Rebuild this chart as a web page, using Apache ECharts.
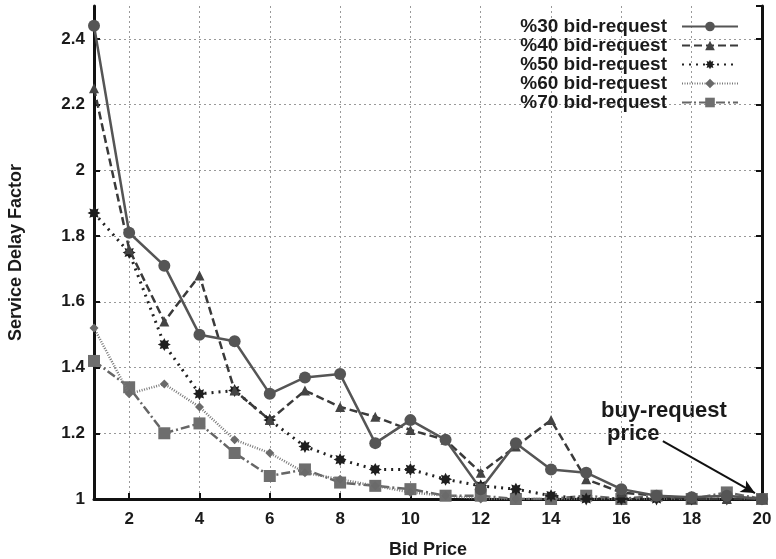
<!DOCTYPE html>
<html>
<head>
<meta charset="utf-8">
<script src="https://cdn.jsdelivr.net/npm/echarts@6/dist/echarts.min.js"></script>
<style>html,body{margin:0;padding:0;background:#fff;}#c{width:776px;height:559px;}</style>
</head>
<body>
<div id="c"></div>
<script>
const bidPrice = ['1','2','3','4','5','6','7','8','9','10','11','12','13','14','15','16','17','18','19','20'];
const yTicks = [1, 1.2, 1.4, 1.6, 1.8, 2, 2.2, 2.4];
const s30 = [2.44,1.81,1.71,1.50,1.48,1.32,1.37,1.38,1.17,1.24,1.18,1.03,1.17,1.09,1.08,1.03,1.01,1.005,1.01,1.0];
const s40 = [2.25,1.76,1.54,1.68,1.33,1.24,1.33,1.28,1.25,1.21,1.18,1.08,1.16,1.24,1.06,1.02,1.01,1.0,1.0,1.0];
const s50 = [1.87,1.75,1.47,1.32,1.33,1.24,1.16,1.12,1.09,1.09,1.06,1.04,1.03,1.01,1.0,1.0,1.0,1.0,1.0,1.0];
const s60 = [1.52,1.32,1.35,1.28,1.18,1.14,1.08,1.06,1.04,1.02,1.01,1.0,1.0,1.0,1.0,1.0,1.0,1.0,1.0,1.0];
const s70 = [1.42,1.34,1.20,1.23,1.14,1.07,1.09,1.05,1.04,1.03,1.01,1.01,1.0,1.0,1.01,1.0,1.01,1.0,1.02,1.0];
const seriesNames = ['%30 bid-request','%40 bid-request','%50 bid-request','%60 bid-request','%70 bid-request'];
const arrowFrom = [17.18, 1.176];
const arrowTo = [19.8, 1.018];

const FONT = 'Liberation Sans, Arial, sans-serif';
const starPath = 'path://M0,-10 L2.3,-5.54 L7.07,-7.07 L5.54,-2.3 L10,0 L5.54,2.3 L7.07,7.07 L2.3,5.54 L0,10 L-2.3,5.54 L-7.07,7.07 L-5.54,2.3 L-10,0 L-5.54,-2.3 L-7.07,-7.07 L-2.3,-5.54 Z';
const evenOnly = (i, v) => (Number(v) % 2 === 0);

const chart = echarts.init(document.getElementById('c'));
chart.setOption({
  backgroundColor: '#fff',
  animation: false,
  textStyle: { fontFamily: FONT },
  grid: { left: 94, right: 14, top: 6, bottom: 60, containLabel: false, outerBoundsMode: 'none' },
  legend: {
    orient: 'vertical',
    right: 32,
    top: 12,
    align: 'right',
    itemWidth: 56,
    itemHeight: 12,
    itemGap: 0,
    data: seriesNames,
    textStyle: { fontSize: 19, lineHeight: 19, fontWeight: 'bold', color: '#1a1a1a', fontFamily: FONT, padding: [0, 10, 0, 0] }
  },
  xAxis: [{
    type: 'category',
    data: bidPrice,
    boundaryGap: false,
    name: 'Bid Price',
    nameLocation: 'middle',
    nameGap: 42,
    nameTextStyle: { fontSize: 18, fontWeight: 'bold', color: '#1a1a1a', fontFamily: FONT },
    axisLine: { lineStyle: { color: '#111', width: 3 } },
    axisTick: { inside: true, length: 6, interval: evenOnly, lineStyle: { color: '#111', width: 2 } },
    axisLabel: { interval: evenOnly, fontSize: 17, fontWeight: 'bold', color: '#1a1a1a', margin: 12 },
    splitLine: { show: true, interval: evenOnly, lineStyle: { color: '#999', type: [2, 3], width: 1 } }
  }, {
    type: 'value', min: 1, max: 20, show: false
  }],
  yAxis: [{
    type: 'value',
    min: 1,
    max: 2.5,
    interval: 0.2,
    name: 'Service Delay Factor',
    nameLocation: 'middle',
    nameGap: 69,
    nameTextStyle: { fontSize: 18, fontWeight: 'bold', color: '#1a1a1a', fontFamily: FONT },
    axisLine: { show: true, lineStyle: { color: '#111', width: 3 } },
    axisTick: { show: true, inside: true, length: 6, lineStyle: { color: '#111', width: 2 } },
    axisLabel: { fontSize: 17, fontWeight: 'bold', color: '#1a1a1a', margin: 9, showMaxLabel: false,
      formatter: v => (yTicks.some(t => Math.abs(t - v) < 1e-6) ? String(+v.toFixed(1)) : '') },
    splitLine: { show: true, showMaxLine: false, lineStyle: { color: '#999', type: [2, 3], width: 1 } }
  }, {
    type: 'value',
    min: 1,
    max: 2.5,
    interval: 0.2,
    position: 'right',
    axisLine: { show: true, lineStyle: { color: '#111', width: 3 } },
    axisTick: { show: true, inside: true, length: 6, lineStyle: { color: '#111', width: 2 } },
    axisLabel: { show: false },
    splitLine: { show: false }
  }],
  series: [
    { name: seriesNames[4], type: 'line', data: s70, z: 2,
      symbol: 'rect', symbolSize: 12,
      itemStyle: { color: '#6e6e6e' },
      lineStyle: { color: '#666', width: 2.5, type: [9, 3, 2, 3] } },
    { name: seriesNames[3], type: 'line', data: s60, z: 3,
      symbol: 'diamond', symbolSize: 9,
      itemStyle: { color: '#6a6a6a' },
      lineStyle: { color: '#777', width: 2.5, type: [1, 1.5] } },
    { name: seriesNames[2], type: 'line', data: s50, z: 4,
      symbol: starPath, symbolSize: 13,
      itemStyle: { color: '#1e1e1e' },
      lineStyle: { color: '#222', width: 3, type: [2, 5] } },
    { name: seriesNames[1], type: 'line', data: s40, z: 5,
      symbol: 'triangle', symbolSize: 10,
      itemStyle: { color: '#444' },
      lineStyle: { color: '#3a3a3a', width: 2.5, type: [8, 4] } },
    { name: seriesNames[0], type: 'line', data: s30, z: 6,
      symbol: 'circle', symbolSize: 12,
      itemStyle: { color: '#555' },
      lineStyle: { color: '#555', width: 2.5 } },
    { name: 'annotation', type: 'line', xAxisIndex: 1, data: [], silent: true,
      markLine: {
        silent: true,
        symbol: ['none', 'arrow'],
        symbolSize: [10, 14],
        label: { show: false },
        lineStyle: { color: '#111', width: 2, type: 'solid' },
        data: [[{ coord: arrowFrom }, { coord: arrowTo }]]
      } }
  ],
  graphic: [
    { type: 'text', left: 601, top: 400, silent: true,
      style: { text: 'buy-request', fontSize: 22, fontWeight: 'bold', fill: '#1a1a1a', fontFamily: FONT } },
    { type: 'text', left: 607, top: 423, silent: true,
      style: { text: 'price', fontSize: 22, fontWeight: 'bold', fill: '#1a1a1a', fontFamily: FONT } }
  ]
});
</script>
</body>
</html>
